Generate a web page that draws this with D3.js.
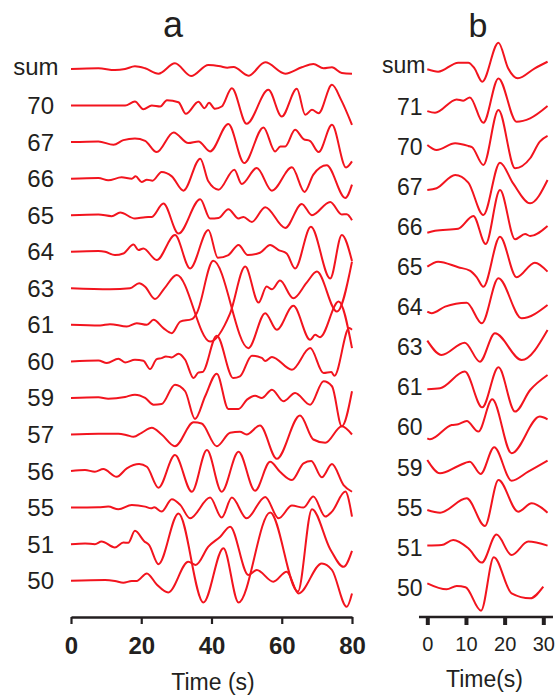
<!DOCTYPE html>
<html>
<head>
<meta charset="utf-8">
<script src="https://cdnjs.cloudflare.com/ajax/libs/d3/7.8.5/d3.min.js"></script>
<style>
  body { margin: 0; background: #fff; }
  svg { display: block; }
  text { font-family: "Liberation Sans", Arial, sans-serif; fill: #231f20; }
</style>
</head>
<body>
<div id="chart"></div>
<script>
//constants
const width = 559,
  height = 696;
const lineColor = "#f2141e",
  inkColor = "#231f20";

// panel a traces, [time (s), amplitude]
const aSum = [[0,0],[7.8,0.7],[12.5,-1],[15.4,0],[18.2,2.7],[21.1,0.7],[24.9,-4.7],[29.6,5.7],[34.2,-7],[39.1,4],[42.5,2.7],[44.5,1.3],[46.3,2],[50.5,-6.7],[55.3,6.7],[61,-4.7],[65.7,1.7],[69,5],[71.9,0.7],[74.3,1.7],[77.1,-4],[80,-4.7]];
const a70 = [[0,0],[15.4,0],[18.2,4],[20.6,-3.7],[23,0],[25.4,-1],[27.3,5.3],[30.6,3.3],[32.7,-8.3],[36.3,3.7],[38,-2.7],[39.3,2.7],[41,-3.3],[42.9,-1],[45.8,17.3],[50,-18.3],[56.2,15.7],[60,-11],[64.3,16.7],[66.7,-9.3],[68.6,-4.3],[70.5,-7.7],[74.3,20.7],[76.9,5.7],[80,-19.3]];
const a67 = [[0,0],[7.8,0.7],[12.1,-2.7],[14.9,2],[18.2,3.7],[21.1,1.3],[24.4,-10],[29.2,9.7],[33.4,-1],[36.3,0.7],[39.6,-9.3],[44.8,18],[49.3,-21],[54.8,14.7],[58.1,-9.3],[59.6,-4.5],[61,-4.3],[63.8,12.3],[66.2,3],[68.1,1],[70.5,-10],[74.3,17.3],[78.3,-25.3],[80,-19.3]];
const a66 = [[0,0],[7.8,0.7],[10.6,-1.7],[14.4,1.3],[17.3,0],[18.4,2.3],[20.1,-3.3],[21.6,-1],[23.2,-2],[25.8,6.7],[28.7,2.3],[32,-12],[36.8,20],[39.1,-2.7],[42,-11],[46.5,9],[48.6,-5.3],[52.9,10.7],[57.2,-12],[62.9,11.3],[66.5,-13.3],[69,4],[72.8,13.3],[78.1,-19.3],[80,-6]];
const a65 = [[0,0],[7.8,0.7],[11.6,-1],[14,2.7],[18.2,-3.3],[21.1,-2],[23,-1.7],[26.3,11.7],[30.6,-18.3],[36.8,16],[39.6,-3.3],[42,-2.7],[44.8,6],[47.7,-3.3],[49.1,-1.7],[51.5,-6.7],[55.3,8],[61,-12.7],[65.7,11.3],[68.6,0],[73.8,13.3],[77.1,0.7],[78.5,1],[80,-5]];
const a64 = [[0,0],[7.8,0.7],[9.7,0],[12.5,-3.3],[14.9,-1.7],[17.8,7.3],[19.2,1.7],[20.6,3.3],[24.4,-8.3],[29.6,16.7],[33.9,-16.7],[39.1,21.7],[41.8,-6],[44.8,-3.3],[47.7,6.7],[50.3,-3.3],[53.8,-1],[56.7,6.7],[59.1,1.7],[61.4,-1.7],[63.8,-16.7],[68.3,25],[73.8,-26.7],[77.1,16.7],[80,-9.3]];
const a63 = [[0,0],[11.1,-1],[16.8,0],[19.4,5],[21.1,1.5],[23.9,-10.7],[26.6,0],[30.1,13.3],[39.6,-53.3],[45.3,-25],[49.6,21.7],[53.4,-14.3],[55.7,1.7],[57.2,-1],[59.5,7.7],[63.3,-10],[67.1,5.7],[70,16.7],[75.7,-23.3],[80,26.7]];
const a61 = [[0,0],[8.3,-0.7],[11.1,0.7],[15.9,-1.7],[18.7,1.7],[21.6,0],[23.5,5],[26.3,-3.3],[28.7,-8.3],[31.1,3.3],[34.4,5.7],[35.8,11.7],[40.5,64],[50.5,-23.3],[55.3,11.7],[58.6,-5],[63.3,19],[68.1,-15],[69.5,-10],[70.9,-12.3],[76.2,23.3],[80,-23.3]];
const a60 = [[0,0],[7.8,1],[10.2,-1.7],[13.5,2.7],[15.4,-1],[18.2,1.7],[20.6,0.7],[22.5,-7.7],[24.4,2.3],[25.8,3.3],[27,5],[28.7,4],[30.6,7.7],[32.5,1.7],[34.9,-16.7],[36.3,-11],[37.4,-10.7],[41.5,25.7],[46.2,-16.7],[48.1,-15],[51.5,5.7],[54.3,3.5],[55.3,0.5],[57.2,4.5],[62.9,-8.3],[68.1,13.3],[71.9,-11.7],[74.1,-10.7],[75,-14.3],[79.2,33.3],[80,31.7]];
const a59 = [[0,0],[7.8,0.7],[10.6,-0.7],[15.4,1],[18.2,3.3],[21.1,0],[23.5,-6.7],[25.8,-6],[29.6,13.3],[32.5,6.7],[35.3,-21],[38.2,1.7],[41.5,24.3],[44.8,-11],[47.7,-11],[50.1,-1.7],[52.4,2.3],[54.3,0],[57.2,8.3],[60.5,-3.3],[63.8,5],[68.1,-6.7],[71.9,16.7],[74.3,11.7],[77.1,-28.3],[80,6.7]];
const a57 = [[0,0],[7.8,0.7],[13.5,0.7],[15.9,-0.7],[17.8,-2.3],[20.1,1.7],[23,6.7],[25.8,0],[29.6,-11.7],[34.9,12.3],[37.2,11],[41.5,-11.7],[45.3,1.7],[48.1,2.7],[50,0],[53.8,9],[58.6,-24.3],[65.2,19],[69,-5],[72.4,-8.3],[77.1,8.3],[80,0]];
const a56 = [[0,0],[4,1],[6.8,-0.7],[9.2,2],[13,-5.7],[15.9,2.7],[19.4,7],[21.6,4.3],[24.9,-16.7],[29.6,16],[34.4,-20.7],[38.7,21],[42.9,-20.7],[47.7,19.3],[52.4,-19.7],[56.7,9.3],[59.5,-0.7],[62.9,-9],[66.2,7.7],[68.4,10],[71.4,-6.3],[74.3,7],[77.6,-14],[80,-20.7]];
const a55 = [[0,0],[7.8,0.3],[10.6,1],[13.5,-1.7],[17.3,2.7],[21.1,1],[22.8,-0.7],[23.7,0.3],[25.8,-4],[28.7,8.3],[31.1,2.7],[33.9,-10.7],[39.6,10],[42.9,-10],[45.8,10],[50,-10.7],[55.3,10.7],[59.1,-10.7],[62.9,2],[66.2,0],[69,11],[72.4,-9],[74.3,-4],[78.1,16],[80,-9]];
const a51 = [[0,0],[4,0.7],[6.8,0],[8.7,2.7],[12.5,-3.3],[14.9,1.7],[16.3,1.3],[18.2,13.3],[20.9,2.7],[22.2,-0.7],[24.9,-20],[30.6,30.7],[37.7,-58.3],[43.4,-4],[47.7,-58.3],[56.7,31.7],[64.6,-47.3],[68.6,35],[73.8,-5],[77.6,-22.7],[80,-6.7]];
const a50 = [[0,0],[9.7,0.7],[12.5,-0.3],[14.9,-2],[17.3,-0.3],[18.7,-0.3],[21.6,7.3],[24.4,-3.7],[27.7,-11.7],[33.4,19],[35.5,15.7],[39.1,34],[42.5,44],[45.3,54],[50.5,5.7],[52.9,10.7],[57.6,-1],[61.4,9],[64.8,-12.7],[71.4,17.3],[74.3,10.7],[78.5,-26],[80,-12.7]];

const labelsA = ["sum", "70", "67", "66", "65", "64", "63", "61", "60", "59", "57", "56", "55", "51", "50"];
const tracesA = [aSum, a70, a67, a66, a65, a64, a63, a61, a60, a59, a57, a56, a55, a51, a50];
const ticksA = [0, 20, 40, 60, 80];

// panel b traces
const bSum = [[0,-1.3],[2.8,-3.7],[8,5.3],[10.6,5.3],[12.2,-0.3],[14.2,-13.7],[18.4,25.3],[20.9,-0.3],[23.4,-10.3],[27.8,-0.3],[31.1,6.3]];
const b71 = [[0,-3],[2,-4.7],[7.6,8.7],[9.3,7.3],[11,10.7],[14.5,-14.7],[18.4,29.7],[23.1,-13.7],[26.6,-10.3],[31.1,2]];
const b70 = [[0,3.2],[2.4,-1.8],[7.2,4.9],[10.6,2.2],[11.6,0.9],[14.5,-16.8],[18.4,38.2],[22.7,-20.1],[26.6,-10.1],[29.1,6.5],[31.1,12.2]];
const b67 = [[0,-1.8],[2.4,0],[7.2,13.2],[10.6,5.6],[14.5,-26.8],[18.8,25.6],[22.2,4.9],[26.6,-15.1],[31.1,8.2]];
const b66 = [[0,-4.4],[2,-2.4],[8,-0.4],[11.9,12.3],[15.1,-15.7],[18.8,38.3],[22.7,-11],[25.3,-5.7],[26.6,-7.7],[31.1,2.3]];
const b65 = [[0,1.7],[2.8,6.7],[8,1.1],[11,-2.3],[12.8,-8.9],[14.5,-18.3],[18.8,31.7],[23.1,-8.9],[27.8,5.7],[31.1,-3.3]];
const b64 = [[0,-3.2],[1.1,-4.8],[4.6,1.8],[10.2,5.8],[14.1,-14.8],[18.4,30.2],[24.4,-9.8],[31.1,3.5]];
const b63 = [[0,7.9],[3.7,-6.4],[9.7,5.9],[13.6,-13.1],[17.5,15.3],[24.4,-11.4],[31.1,18.6]];
const b61 = [[0,-0.7],[3.3,0.3],[9.7,17],[14.2,-18.7],[18.4,21.3],[22.7,-23],[26.6,-1.4],[31.1,13.6]];
const b60 = [[0,-9.6],[0.7,-10.6],[6.3,3.7],[8,4.4],[10.2,7.7],[13.2,-2.9],[16.8,29.4],[21.8,-24.6],[29.1,12.1],[31.1,9.4]];
const b59 = [[0,8.8],[3.3,-4.5],[8,2.8],[11,7.1],[13.8,-5.2],[17.3,21.5],[21.8,-11.9],[26.1,-2.9],[31.1,8.1]];
const b55 = [[0,-1.1],[3.3,-3.8],[10.2,10.5],[14.9,-17.1],[18.4,28.9],[23.5,-2.8],[27,5.5],[31.1,-3.8]];
const b51 = [[0,3.3],[3.7,3.9],[6.7,8.9],[10.6,0.6],[14.1,-13.7],[17.9,14.3],[21.8,-6.1],[26.1,7.3],[31.1,3.3]];
const b50 = [[0,5.7],[5,-0.3],[7.6,3],[9.9,1.7],[13.9,-21.7],[17.2,31.7],[21.8,-4.3],[26.6,-9.3],[30,2.3]];

const labelsB = ["sum", "71", "70", "67", "66", "65", "64", "63", "61", "60", "59", "55", "51", "50"];
const tracesB = [bSum, b71, b70, b67, b66, b65, b64, b63, b61, b60, b59, b55, b51, b50];
const ticksB = [0, 10, 20, 30];

const svg = d3.select("#chart")
  .append("svg")
  .attr("width", width)
  .attr("height", height)
  .attr("viewBox", [0, 0, width, height]);

// amplitude is stored in px, up = positive
const amp = d3.scaleLinear().domain([0, 1]).range([0, -1]);

/* ---------- panel a ---------- */
const xA = d3.scaleLinear().domain([0, 80]).range([71, 352]);
const rowA = d3.scalePoint().domain(labelsA).range([69, 580.7]);

svg.append("g")
  .selectAll("path")
  .data(labelsA.map((k, i) => ({ key: k, pts: tracesA[i] })))
  .join("path")
  .attr("fill", "none")
  .attr("stroke", lineColor)
  .attr("stroke-width", 2)
  .attr("stroke-linejoin", "round")
  .attr("d", d => d3.line()
    .x(p => xA(p[0]))
    .y(p => rowA(d.key) + amp(p[1]))
    .curve(d3.curveMonotoneX)(d.pts));

svg.append("g")
  .selectAll("text")
  .data(labelsA)
  .join("text")
  .attr("x", d => d === "sum" ? 58.5 : 54)
  .attr("y", d => rowA(d) + (d === "sum" ? 6 : 8.5))
  .attr("text-anchor", "end")
  .style("font-size", "24px")
  .text(d => d);

const axisA = svg.append("g")
  .attr("transform", "translate(0,617)")
  .call(d3.axisBottom(xA).tickValues(ticksA).tickSize(7).tickSizeOuter(0).tickPadding(13));
axisA.select(".domain").attr("stroke", inkColor).attr("stroke-width", 2.5);
axisA.selectAll(".tick line").attr("stroke", inkColor).attr("stroke-width", 2.2);
axisA.selectAll(".tick text")
  .attr("fill", inkColor)
  .style("font-size", "24px")
  .style("font-weight", "bold")
  .style("font-family", "'Liberation Sans', Arial, sans-serif");

svg.append("text")
  .attr("x", 213).attr("y", 690)
  .attr("text-anchor", "middle")
  .style("font-size", "23px")
  .text("Time (s)");

svg.append("text")
  .attr("x", 173).attr("y", 37)
  .attr("text-anchor", "middle")
  .style("font-size", "36px")
  .text("a");

/* ---------- panel b ---------- */
const xB = d3.scaleLinear().domain([0, 30]).range([427.3, 543.3]);
const rowB = d3.scalePoint().domain(labelsB).range([68, 589]);

svg.append("g")
  .selectAll("path")
  .data(labelsB.map((k, i) => ({ key: k, pts: tracesB[i] })))
  .join("path")
  .attr("fill", "none")
  .attr("stroke", lineColor)
  .attr("stroke-width", 2)
  .attr("stroke-linejoin", "round")
  .attr("d", d => d3.line()
    .x(p => xB(p[0]))
    .y(p => rowB(d.key) + amp(p[1]))
    .curve(d3.curveMonotoneX)(d.pts));

svg.append("g")
  .selectAll("text")
  .data(labelsB)
  .join("text")
  .attr("x", d => d === "sum" ? 425.5 : 422.5)
  .attr("y", d => rowB(d) + (d === "sum" ? 5.3 : 6.8))
  .attr("text-anchor", "end")
  .style("font-size", "23px")
  .text(d => d);

const axisB = svg.append("g")
  .attr("transform", "translate(0,617)")
  .call(d3.axisBottom(xB).tickValues(ticksB).tickSize(8).tickSizeOuter(0).tickPadding(12));
// domain line runs a bit past the ticks on both sides
axisB.select(".domain").remove();
axisB.insert("line", ":first-child")
  .attr("x1", xB(-2.15)).attr("x2", xB(32.5))
  .attr("stroke", inkColor).attr("stroke-width", 2.5);
axisB.selectAll(".tick line").attr("stroke", inkColor).attr("stroke-width", 4);
axisB.selectAll(".tick text")
  .attr("fill", inkColor)
  .style("font-size", "20px")
  .style("font-family", "'Liberation Sans', Arial, sans-serif");

svg.append("text")
  .attr("x", 484.5).attr("y", 687)
  .attr("text-anchor", "middle")
  .style("font-size", "23px")
  .text("Time(s)");

svg.append("text")
  .attr("x", 478).attr("y", 37)
  .attr("text-anchor", "middle")
  .style("font-size", "34px")
  .text("b");
</script>
</body>
</html>
